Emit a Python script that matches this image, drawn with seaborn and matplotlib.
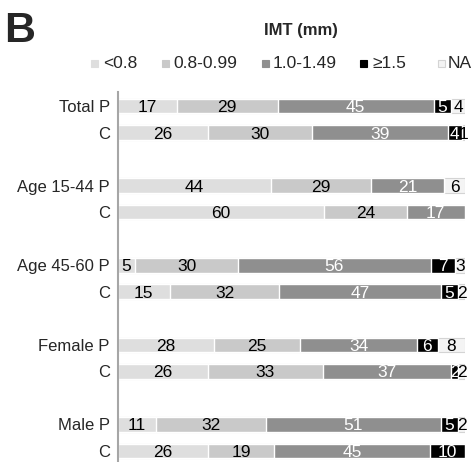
import numpy as np
import pandas as pd
import matplotlib
matplotlib.use("Agg")
import matplotlib.pyplot as plt
from matplotlib.patches import Rectangle
import seaborn as sns

sns.set_style("white")
plt.rcParams['font.family'] = ['Liberation Sans', 'DejaVu Sans']

groups = ["Total", "Age 15-44", "Age 45-60", "Female", "Male"]
members = ["P", "C"]
categories = ["<0.8", "0.8-0.99", "1.0-1.49", "\u22651.5", "NA"]

lt08 = [17, 26, 44, 60, 5, 15, 28, 26, 11, 26]
r08_099 = [29, 30, 29, 24, 30, 32, 25, 33, 32, 19]
r10_149 = [45, 39, 21, 17, 56, 47, 34, 37, 51, 45]
ge15 = [5, 4, 0, 0, 7, 5, 6, 2, 5, 10]
na = [4, 1, 6, 0, 3, 2, 8, 2, 2, 0]

colors = ["#dedede", "#c9c9c9", "#8f8f8f", "#000000", "#f4f4f4"]
text_colors = ["black", "black", "white", "white", "black"]

vals = np.array([lt08, r08_099, r10_149, ge15, na], dtype=float)  # (5 cats, 10 rows)
totals = vals.sum(axis=0)
pct = vals / totals * 100.0
cum = np.cumsum(pct, axis=0)
starts = cum - pct

n_rows = len(groups) * len(members)
pos = np.array([g * 3 + m for g in range(len(groups)) for m in range(len(members))], dtype=float)
ticklabels = []
for g in groups:
    ticklabels += [f"{g} P", "C"]

W, H = 472, 462
fig = plt.figure(figsize=(W / 100, H / 100), dpi=100)
ax = fig.add_axes([118 / W, 0, (465 - 118) / W, (462 - 92) / H])

# draw stacked bars (cumulative, largest first)
for k in range(len(categories) - 1, -1, -1):
    df = pd.DataFrame({"x": cum[k], "y": pos})
    kw = {}
    if categories[k] == "NA":
        kw = dict(edgecolor="#d4d4d4", linewidth=0.8)
    sns.barplot(data=df, x="x", y="y", orient="y", native_scale=True,
                color=colors[k], saturation=1, width=0.55, errorbar=None,
                ax=ax, **kw)

# labels
for k in range(len(categories)):
    for i in range(n_rows):
        v = vals[k, i]
        if v <= 0:
            continue
        ax.text(starts[k, i] + pct[k, i] / 2, pos[i], f"{int(v)}",
                ha="center", va="center_baseline", fontsize=12.5,
                color=text_colors[k], clip_on=False)

ax.set_xlim(0, 100)
ax.set_ylim(13 + 11 / 26.54, -14 / 26.54)
ax.set_yticks(pos)
ax.set_yticklabels(ticklabels, fontsize=12)
ax.tick_params(axis="y", length=0, pad=6)
ax.set_xticks([])
ax.set_xlabel("")
ax.set_ylabel("")
for s in ["top", "right", "bottom"]:
    ax.spines[s].set_visible(False)
ax.spines["left"].set_color("#a6a6a6")
ax.spines["left"].set_linewidth(1.5)
ax.patch.set_alpha(0)

# titles
fig.text(4 / W, 1 - 42 / H, "B", fontsize=31, fontweight="bold", ha="left", va="baseline")
fig.text(301 / W, 1 - 35 / H, "IMT (mm)", fontsize=12, fontweight="bold", ha="center", va="baseline")

# legend
sq_x = [91, 162, 262, 360, 438]
tx_x = [103, 173, 273, 372, 448]
sq = 7
for k, lab in enumerate(categories):
    ec = "#d4d4d4" if lab == "NA" else colors[k]
    fig.add_artist(Rectangle((sq_x[k] / W, 1 - 66.5 / H), sq / W, sq / H,
                             transform=fig.transFigure, facecolor=colors[k],
                             edgecolor=ec, linewidth=0.8))
    fig.text(tx_x[k] / W, 1 - 68 / H, lab, fontsize=12.5, ha="left", va="baseline")

fig.savefig("out.png", dpi=100)
